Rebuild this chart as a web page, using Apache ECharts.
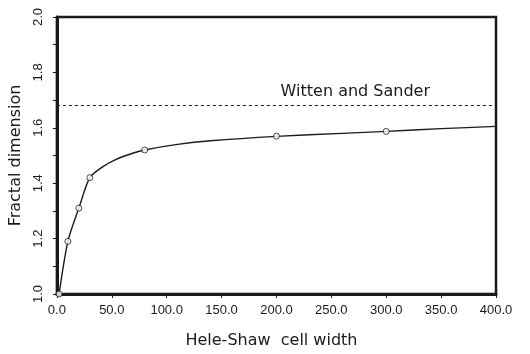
<!DOCTYPE html>
<html>
<head>
<meta charset="utf-8">
<script src="https://cdn.jsdelivr.net/npm/echarts@6/dist/echarts.min.js"></script>
<style>
  html, body { margin: 0; padding: 0; background: #fff; }
  #chart { width: 530px; height: 354px; }
</style>
</head>
<body>
<div id="chart"></div>
<script>
// fitted curve
const curveX = [2, 10, 20, 30, 42, 54, 69, 80, 110, 140, 200, 260, 300, 350, 400]
const curveY = [1.0, 1.19, 1.31, 1.42, 1.46, 1.486, 1.508, 1.52, 1.54, 1.553, 1.569, 1.58, 1.587, 1.597, 1.605]
// measured points (open circles)
const pointX = [2, 10, 20, 30, 80, 200, 300]
const pointY = [1.0, 1.19, 1.31, 1.42, 1.52, 1.57, 1.587]
const wittenSander = 1.68

const font = 'Liberation Sans, Arial, Helvetica, sans-serif'
const titleFont = 'DejaVu Sans, Liberation Sans, sans-serif'
const ink = '#1a1a1a'

const chart = echarts.init(document.getElementById('chart'))
chart.setOption({
  animation: false,
  grid: {
    left: 52,
    right: 34,
    top: 17,
    bottom: 59,
    show: true,
    borderColor: ink,
    borderWidth: 2.5
  },
  xAxis: {
    type: 'value',
    min: 0,
    max: 400,
    interval: 50,
    name: 'Hele-Shaw  cell width',
    nameLocation: 'middle',
    nameGap: 39,
    nameTextStyle: { fontFamily: titleFont, fontSize: 16, color: ink, padding: [0, 10, 0, 0] },
    axisLine: { lineStyle: { color: ink, width: 3 } },
    axisTick: { length: 4, lineStyle: { color: ink } },
    axisLabel: {
      fontFamily: font,
      fontSize: 13,
      color: ink,
      margin: 10,
      formatter: v => v.toFixed(1)
    },
    splitLine: { show: false }
  },
  yAxis: {
    type: 'value',
    min: 1.0,
    max: 2.0,
    interval: 0.2,
    name: 'Fractal dimension',
    nameLocation: 'middle',
    nameGap: 24,
    nameTextStyle: { fontFamily: titleFont, fontSize: 16, color: ink },
    axisLine: { show: true, lineStyle: { color: ink, width: 3 } },
    axisTick: { show: true, length: 4, lineStyle: { color: ink } },
    minorTick: { show: true, splitNumber: 2, length: 4, lineStyle: { color: ink } },
    axisLabel: {
      rotate: 90,
      fontFamily: font,
      fontSize: 13,
      color: ink,
      margin: 12,
      formatter: v => v.toFixed(1)
    },
    splitLine: { show: false }
  },
  series: [
    {
      type: 'line',
      data: curveX.map((x, i) => [x, curveY[i]]),
      smooth: 0.25,
      showSymbol: false,
      lineStyle: { color: ink, width: 1.4 },
      z: 2,
      markLine: {
        silent: true,
        symbol: 'none',
        lineStyle: { color: ink, width: 1, type: [3, 3] },
        label: {
          show: true,
          position: 'insideEndTop',
          distance: [66, 6],
          formatter: 'Witten and Sander',
          fontFamily: titleFont,
          fontSize: 16,
          color: ink
        },
        data: [{ yAxis: wittenSander }]
      }
    },
    {
      type: 'scatter',
      data: pointX.map((x, i) => [x, pointY[i]]),
      symbol: 'circle',
      symbolSize: 6,
      itemStyle: { color: '#fff', borderColor: ink, borderWidth: 1 },
      z: 3
    }
  ]
})
</script>
</body>
</html>
